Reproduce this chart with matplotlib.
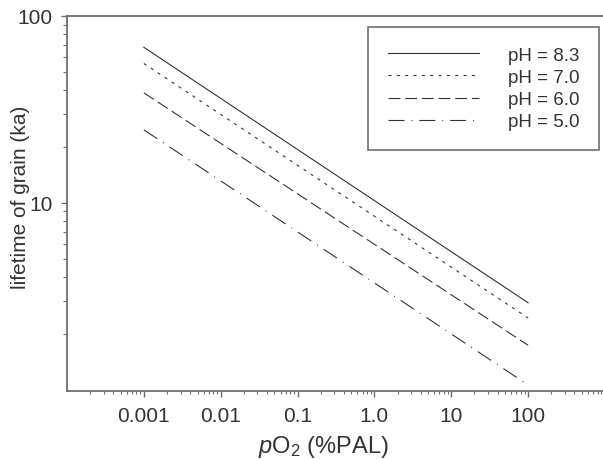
import matplotlib
matplotlib.use('Agg')
import matplotlib.pyplot as plt
from matplotlib.ticker import FixedLocator, LogLocator, NullFormatter

plt.rcParams['font.family'] = ['Liberation Sans', 'DejaVu Sans']
plt.rcParams['mathtext.fontset'] = 'custom'
plt.rcParams['mathtext.rm'] = 'Liberation Sans'
plt.rcParams['mathtext.it'] = 'Liberation Sans:italic'
plt.rcParams['lines.scale_dashes'] = False

# data (straight lines on log-log axes)
po2 = [0.001, 100]
life_83 = [68.0, 2.92]
life_70 = [55.7, 2.42]
life_60 = [38.8, 1.73]
life_50 = [24.6, 1.06]
labels = ['pH = 8.3', 'pH = 7.0', 'pH = 6.0', 'pH = 5.0']
x_ticks = [0.001, 0.01, 0.1, 1, 10, 100]
x_tick_labels = ['0.001', '0.01', '0.1', '1.0', '10', '100']
y_ticks = [10, 100]
y_tick_labels = ['10', '100']

line_col = '#333333'
axis_col = '#6e6e6e'
text_col = '#333333'

fig = plt.figure(figsize=(6.03, 4.60), dpi=100)
ax = fig.add_axes([67 / 603, 1 - 392 / 460, 538 / 603, 375 / 460])

series = [life_83, life_70, life_60, life_50]
styles = [
    dict(linestyle='-'),
    dict(dashes=(2.2, 3.8)),
    dict(dashes=(8.6, 3.4)),
    dict(dashes=(11.5, 5.0, 0.7, 5.0)),
]
for vals, lab, st in zip(series, labels, styles):
    ax.plot(po2, vals, color=line_col, lw=0.8, label=lab, **st)

ax.set_xscale('log')
ax.set_yscale('log')
ax.set_xlim(1e-4, 1e3)
ax.set_ylim(0.985, 100)

ax.xaxis.set_major_locator(LogLocator(base=10, numticks=20))
ax.xaxis.set_minor_locator(LogLocator(base=10, subs=range(2, 10), numticks=20))
ax.xaxis.set_minor_formatter(NullFormatter())
ax.set_xticks(x_ticks, x_tick_labels)
ax.yaxis.set_major_locator(FixedLocator(y_ticks))
ax.yaxis.set_minor_locator(LogLocator(base=10, subs=range(2, 10), numticks=20))
ax.yaxis.set_minor_formatter(NullFormatter())
ax.set_yticks(y_ticks, y_tick_labels)

for side in ['left', 'bottom', 'top']:
    ax.spines[side].set_color(axis_col)
    ax.spines[side].set_linewidth(1.3)
ax.spines['right'].set_visible(False)

ax.tick_params(which='major', direction='out', length=4.5, width=1.0,
               color=axis_col, labelsize=15, labelcolor=text_col, pad=6)
ax.tick_params(which='minor', direction='out', length=2.8, width=0.8,
               color=axis_col)
ax.tick_params(axis='x', which='minor', length=2.0)

ax.set_xlabel(r'$\it{p}$O$_2$ (%PAL)', fontsize=17, color=text_col)
ax.xaxis.set_label_coords(0.476, -0.112)
ax.set_ylabel('lifetime of grain (ka)', fontsize=15, color=text_col)
ax.yaxis.set_label_coords(-0.069, 0.52)

leg = ax.legend(loc='upper left', bbox_to_anchor=(368 / 603, 1 - 28 / 460),
                bbox_transform=fig.transFigure, borderaxespad=0,
                frameon=True, fancybox=False, framealpha=1,
                fontsize=13.5, handlelength=4.85, handletextpad=1.55,
                labelspacing=0.27, borderpad=1.05)
leg.get_frame().set_edgecolor(axis_col)
leg.get_frame().set_linewidth(1.2)
for t in leg.get_texts():
    t.set_color(text_col)

fig.savefig('out.png', dpi=100)
